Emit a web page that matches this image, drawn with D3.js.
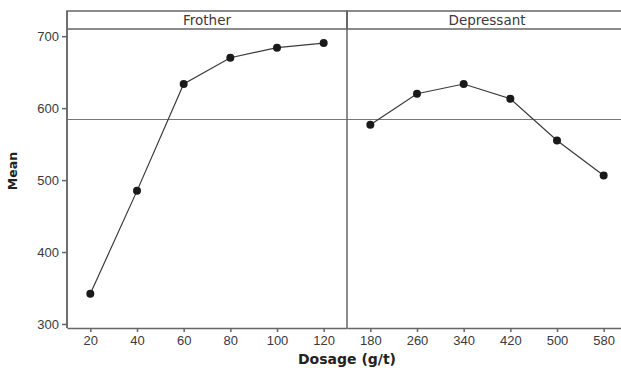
<!DOCTYPE html>
<meta charset="utf-8">
<style>
	body { margin: 0; background: #fff; }
	svg { display: block; font-family: "DejaVu Sans", Verdana, sans-serif; }
	.tick text { font-size: 13px; fill: #3a3a3a; }
	.axis path, .axis line { stroke: #666; stroke-width: 1.5; }
	.frame { fill: none; stroke: #666; stroke-width: 1.5; }
	.refline { stroke: #777; stroke-width: 1; }
	.series { fill: none; stroke: #3a3a3a; stroke-width: 1.2; }
	.dot { fill: #1a1a1a; }
	.strip-label { font-size: 13.5px; fill: #3a3a3a; }
	.axis-title { font-weight: bold; fill: #222; }
</style>
<body></body>
<script src="https://d3js.org/d3.v7.min.js"></script>
<script>

var panels = ["Frother", "Depressant"];
var frotherDosage = ["20", "40", "60", "80", "100", "120"];
var frotherMean = [342, 485, 633.5, 670, 684, 690.5];
var depressantDosage = ["180", "260", "340", "420", "500", "580"];
var depressantMean = [577, 620, 633.5, 613, 555, 506.5];
var yTicks = [300, 400, 500, 600, 700];
var grandMean = 584.2;

var width = 621, height = 368;
var margin = {top: 11, left: 67, bottom: 40};
var stripH = 18;
var panelW = 280;
var plotTop = margin.top + stripH;
var plotBottom = height - margin.bottom;

var svg = d3.select("body").append("svg")
	.attr("width", width)
	.attr("height", height);

var yScale = d3.scaleLinear()
	.domain([294.4, 710])
	.range([plotBottom, plotTop]);

var data = [
	{name: panels[0], x: frotherDosage, y: frotherMean},
	{name: panels[1], x: depressantDosage, y: depressantMean}
];

data.forEach(function(p, i) {
	var x0 = margin.left + i * panelW;
	var g = svg.append("g").attr("transform", "translate(" + x0 + ",0)");

	var xScale = d3.scalePoint()
		.domain(p.x)
		.range([0, panelW])
		.padding(0.5);

	// strip
	g.append("rect")
		.attr("class", "frame")
		.attr("x", 0).attr("y", margin.top)
		.attr("width", panelW).attr("height", stripH);
	g.append("text")
		.attr("class", "strip-label")
		.attr("x", panelW / 2).attr("y", margin.top + stripH / 2 + 5)
		.attr("text-anchor", "middle")
		.text(p.name);

	// grand mean reference
	g.append("line")
		.attr("class", "refline")
		.attr("x1", 0).attr("x2", panelW)
		.attr("y1", yScale(grandMean)).attr("y2", yScale(grandMean));

	// left border of panel
	g.append("line")
		.attr("class", "frame")
		.attr("x1", 0).attr("x2", 0)
		.attr("y1", margin.top).attr("y2", plotBottom);

	g.append("g")
		.attr("class", "x axis")
		.attr("transform", "translate(0," + plotBottom + ")")
		.call(d3.axisBottom(xScale).tickSize(4).tickSizeOuter(0).tickPadding(4));

	var pts = p.x.map(function(d, j) { return {x: d, y: p.y[j]}; });

	var line = d3.line()
		.x(function(d) { return xScale(d.x); })
		.y(function(d) { return yScale(d.y); });

	g.append("path")
		.datum(pts)
		.attr("class", "series")
		.attr("d", line);

	g.selectAll(".dot")
		.data(pts)
		.enter()
		.append("circle")
		.attr("class", "dot")
		.attr("r", 4)
		.attr("cx", function(d) { return xScale(d.x); })
		.attr("cy", function(d) { return yScale(d.y); });
});

svg.append("g")
	.attr("class", "y axis")
	.attr("transform", "translate(" + margin.left + ",0)")
	.call(d3.axisLeft(yScale).tickValues(yTicks).tickSize(5).tickSizeOuter(0).tickPadding(3));

svg.select(".y.axis .domain").attr("d", "M0," + plotTop + "V" + plotBottom);

svg.append("text")
	.attr("class", "axis-title")
	.style("font-size", "12.5px")
	.attr("transform", "translate(17,171) rotate(-90)")
	.attr("text-anchor", "middle")
	.text("Mean");

svg.append("text")
	.attr("class", "axis-title")
	.style("font-size", "14px")
	.attr("x", margin.left + panelW)
	.attr("y", 364)
	.attr("text-anchor", "middle")
	.text("Dosage (g/t)");

</script>
